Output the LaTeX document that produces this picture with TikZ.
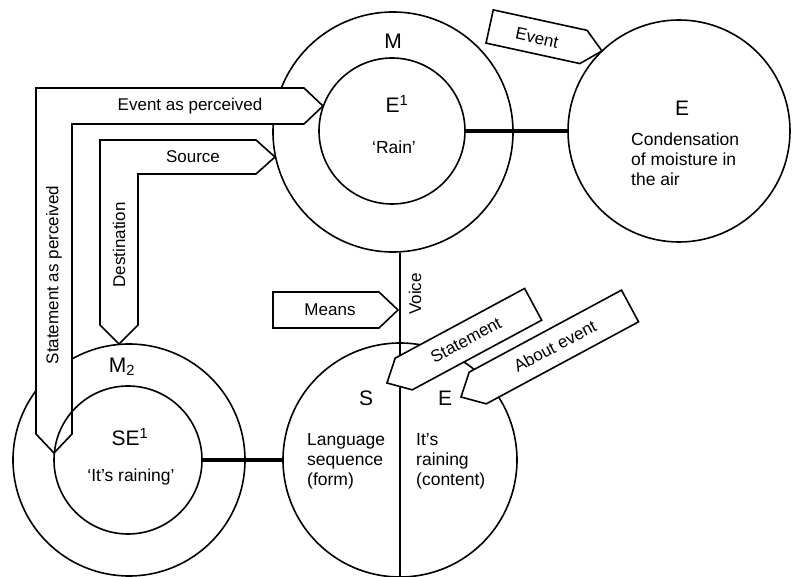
\documentclass[tikz,border=0pt]{standalone}
\usepackage{fontspec}
\setmainfont{Liberation Sans}
\usetikzlibrary{calc}

\begin{document}
\begin{tikzpicture}[x=1pt,y=1pt,
  ring/.style={draw,circle,line width=1.6pt,inner sep=0pt},
  tag/.style={draw,fill=white,line width=1.6pt,line join=miter},
  link/.style={line width=4.5pt},
  lbl/.style={font=\fontsize{17}{20}\selectfont,inner sep=0pt},
  big/.style={font=\fontsize{21}{24}\selectfont,inner sep=0pt},
  txt/.style={font=\fontsize{17.5}{20}\selectfont,align=left,inner sep=0pt}
]
\useasboundingbox (0,0) rectangle (793,576);
% circles
\node[ring,minimum size=240pt] (M) at (393,444) {};
\node[ring,minimum size=146pt] (E1) at (392,445) {};
\node[ring,minimum size=222pt] (E) at (679,445) {};
\node[ring,minimum size=232pt] (M2) at (129,116) {};
\node[ring,minimum size=234pt] (S) at (400,116) {};
\draw[line width=1.6pt] (S.north) -- (S.south);
\draw[line width=2.8pt] (S.north) -- (S.north |- M.south);
% bands and tags
\draw[tag] (36,142) -- (36,488) -- (304,488) -- (323,470) -- (304,452) -- (72,452) -- (72,142) -- (54,123) -- cycle;
\draw[tag] (100,251) -- (100,436) -- (256,436) -- (275,419) -- (256,402) -- (138,402) -- (138,251) -- (119,232) -- cycle;
\draw[tag] (273,284) -- (379,284) -- (398,266) -- (379,248) -- (273,248) -- cycle;
\begin{scope}[shift={(602,525)},rotate=167.7]
  \draw[tag] (0,0) -- (19,17) -- (115,17) -- (115,-17) -- (19,-17) -- cycle;
\end{scope}
\begin{scope}[shift={(387,193)},rotate=28.3]
  \draw[tag] (0,0) -- (19,18) -- (166,18) -- (166,-18) -- (19,-18) -- cycle;
\end{scope}
\begin{scope}[shift={(461,179)},rotate=28.3]
  \draw[tag] (0,0) -- (19,18) -- (192,18) -- (192,-18) -- (19,-18) -- cycle;
\end{scope}
\node[ring,minimum size=148pt] (SE1) at (128,116) {};
% links
\draw[link] (E1.east) -- (E.west);
\draw[link] (SE1.east) -- (S.west);
% labels
\node[big] (mlbl) at (393,535) {M};
\node[big] (e1lbl) at (397,472) {E\textsuperscript{1}};
\node[txt] (rainlbl) at (394,429) {`Rain'};
\node[big] (elbl) at (682,468) {E};
\node[txt,anchor=west] (condlbl) at (631,417) {Condensation\\of moisture in\\the air};
\node[big] (m2lbl) at (122,209) {M\textsubscript{2}};
\node[big] (se1lbl) at (130,139) {SE\textsuperscript{1}};
\node[txt] (itslbl) at (131,99) {`It's raining'};
\node[big] (slbl) at (366,178) {S};
\node[big] (selbl) at (445,178) {E};
\node[txt,anchor=west] (formlbl) at (307,115) {Language\\sequence\\(form)};
\node[txt,anchor=west] (contlbl) at (416,115) {It's\\raining\\(content)};
\node[lbl] (evperc) at (190,470) {Event as perceived};
\node[lbl,rotate=90] (stperc) at (54,301) {Statement as perceived};
\node[lbl] (srclbl) at (193,419) {Source};
\node[lbl,rotate=90] (destlbl) at (119,331) {Destination};
\node[lbl,rotate=-12.3] (evlbl) at (537,538) {Event};
\node[lbl] (meanslbl) at (330,266) {Means};
\node[lbl,rotate=90] (voicelbl) at (415,282) {Voice};
\node[lbl,rotate=28.3] (stlbl) at (466,236) {Statement};
\node[lbl,rotate=28.3] (aboutlbl) at (555,230) {About event};
\end{tikzpicture}
\end{document}
